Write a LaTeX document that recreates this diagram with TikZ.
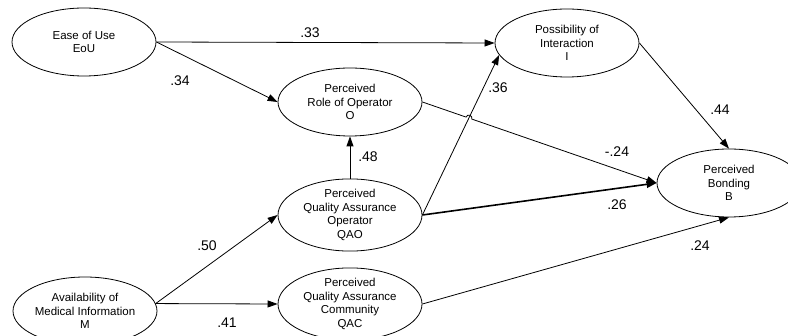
\documentclass[tikz,border=0pt]{standalone}
\usepackage{fontspec}
\setmainfont{Liberation Sans}
\usetikzlibrary{arrows.meta,calc,shapes.geometric}

\begin{document}
\begin{tikzpicture}[x=1pt,y=-1pt,
    construct/.style={draw,ellipse,line width=0.8pt,minimum width=144pt,minimum height=68pt,inner sep=0pt,align=center,font=\fontsize{11.5}{13.5}\selectfont},
    effect/.style={draw,line width=0.8pt,-{Triangle[length=10pt,width=7pt]}},
    coef/.style={font=\fontsize{14}{16}\selectfont}]
    \useasboundingbox (0,0) rectangle (788,336);
    \node[construct] (eou) at (84,42) {Ease of Use\\EoU};
    \node[construct] (i) at (567,43) {Possibility of\\Interaction\\I};
    \node[construct] (o) at (350,102) {Perceived\\Role of Operator\\O};
    \node[construct] (qao) at (350,215) {Perceived\\Quality Assurance\\Operator\\QAO};
    \node[construct] (qac) at (350,304) {Perceived\\Quality Assurance\\Community\\QAC};
    \node[construct] (m) at (85,311) {Availability of\\Medical Information\\M};
    \node[construct] (b) at (729,183) {Perceived\\Bonding\\B};
    \draw[effect] (eou.east) -- (i.west);
    \draw[effect] (eou.east) -- (o.west);
    \draw[effect] (qao.north) -- (o.south);
    \draw[effect] (qao.east) -- (i.190);
    \draw[effect] (i.east) -- (b.north);
    \draw[effect,line width=1.6pt] (qao.east) -- (b.west);
    \draw[effect] (qac.east) -- (b.south);
    \draw[effect] (m.6) -- (qao.west);
    \draw[effect] (m.6) -- (qac.west);
    \coordinate (cross) at (intersection of o.east--b.west and qao.east--i.190);
    \draw[effect] let \p1=($(b.west)-(o.east)$), \n1={atan2(\y1,\x1)}, \n2={\n1+180} in
      (o.east) -- ($(cross)!3pt!(o.east)$) arc[start angle=\n2, end angle=\n1, radius=3pt] -- (b.west);
    \foreach \v/\x/\y [count=\k] in {.33/310/33, .34/180/81, .48/368/157, .36/498/88, .44/720/110,
      -.24/617/152, .26/617/205, .24/700/246, .50/207/246, .41/227/323}
      \node[coef] (coef\k) at (\x,\y) {\v};
\end{tikzpicture}
\end{document}
